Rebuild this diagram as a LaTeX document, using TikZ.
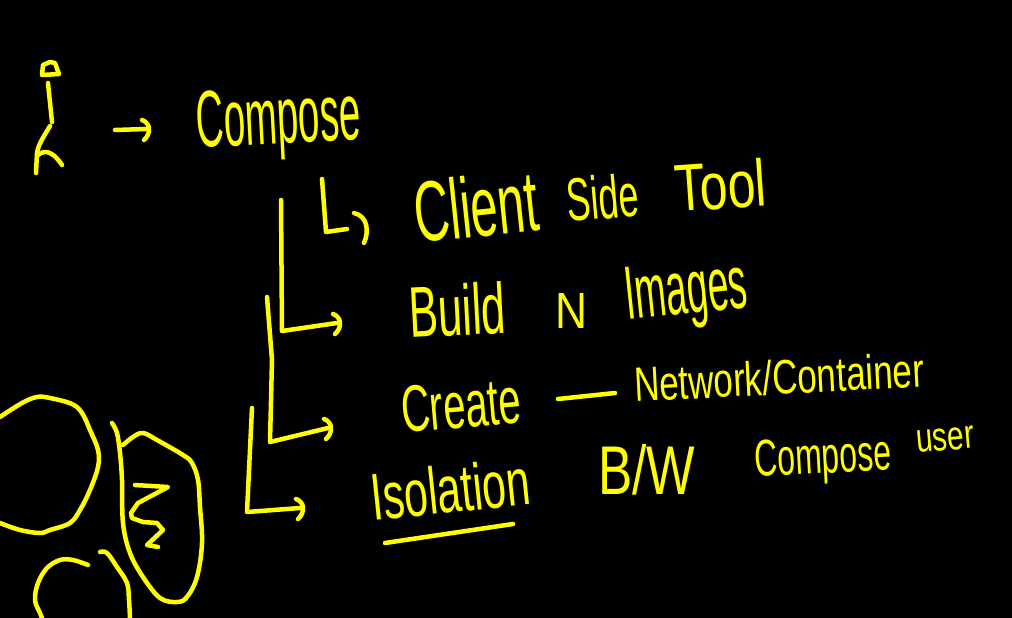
\documentclass[tikz,border=0pt]{standalone}
\usepackage{fontspec}
\setmainfont{Liberation Sans}
\usepackage{graphicx}
\definecolor{ink}{RGB}{255,255,0}
% a word squeezed into a given width and height (above the baseline)
\newcommand{\wordfit}[3]{\resizebox{#1pt}{#2pt}{#3}}
\tikzset{
  pen/.style={draw=ink, line width=4.5pt, line cap=round, line join=round},
  word/.style={text=ink, inner sep=0pt, anchor=base west},
  hookhead/.pic={\draw[pen] (-4,-9) .. controls (5,-6) and (5,5) .. (-2,11);},
}
\begin{document}
\begin{tikzpicture}[x=1pt,y=-1pt]
\fill[black] (0,0) rectangle (1012,618);
\useasboundingbox (0,0) rectangle (1012,618);

% stick figure
\draw[pen] (42,75) -- (43,65) -- (50,62) -- (55,63) -- (59,74) -- cycle;
\draw[pen] (48,83) -- (52,122);
\draw[pen] (50,126) .. controls (44,136) and (38,145) .. (37,153) -- (36,173);
\draw[pen] (38,155) .. controls (44,150) and (52,150) .. (62,165);

% words
\node[word, rotate=3] (compose) at (197,148) {\wordfit{165}{56}{Compose}};
\node[word, rotate=6] (client) at (417,243) {\wordfit{125}{62}{Client}};
\node[word, rotate=5] (side) at (568,222) {\wordfit{72}{44}{Side}};
\node[word, rotate=4] (tool) at (676,212) {\wordfit{92}{48}{Tool}};
\node[word, rotate=3] (build) at (410,338) {\wordfit{97}{52}{Build}};
\node[word] (nn) at (555,328) {\wordfit{32}{35}{N}};
\node[word, rotate=6] (images) at (627,320) {\wordfit{123}{52}{Images}};
\node[word, rotate=5] (create) at (403,433) {\wordfit{120}{46}{Create}};
\node[word, rotate=3] (network) at (635,402) {\wordfit{290}{35}{Network/Container}};
\node[word, rotate=6] (isolation) at (373,521) {\wordfit{160}{48}{Isolation}};
\node[word] (bw) at (598,494) {\wordfit{97}{50}{B/W}};
\node[word, rotate=3] (compose2) at (755,477) {\wordfit{137}{36}{Compose}};
\node[word, rotate=5] (user) at (917,453) {\wordfit{58}{22}{user}};

% arrow from the figure to Compose
\coordinate (a0) at (115,130);
\coordinate (a1) at (146,129);
\draw[pen] (a0) -- (a1);
\pic at (a1) {hookhead};

% branch to Client Side Tool
\coordinate (c0) at (322,179);
\coordinate (c1) at (326,232);
\coordinate (c2) at (347,229);
\draw[pen] (c0) -- (c1) -- (c2);
\draw[pen] (354,213) .. controls (368,216) and (369,232) .. (364,243);

% branch to Build N Images
\coordinate (b0) at (281,200);
\coordinate (b1) at (282,331);
\coordinate (b2) at (337,323);
\draw[pen] (b0) -- (b1) -- (b2);
\pic at (b2) {hookhead};

% branch to Create
\coordinate (r0) at (267,297);
\coordinate (r1) at (270,442);
\coordinate (r2) at (328,428);
\draw[pen] (r0) -- (272,360) -- (r1) -- (r2);
\pic at (r2) {hookhead};

% branch to Isolation
\coordinate (i0) at (252,408);
\coordinate (i1) at (247,512);
\coordinate (i2) at (300,508);
\draw[pen] (i0) -- (i1) -- (i2);
\pic at (i2) {hookhead};

% dash between Create and Network/Container
\coordinate (d0) at (558,399);
\coordinate (d1) at (615,393);
\draw[pen] (d0) -- (d1);

% underline of Isolation
\coordinate (u0) at (385,543);
\coordinate (u1) at (513,524);
\draw[pen] (u0) -- (u1);

% large circle, left
\draw[pen] plot[smooth, tension=0.6] coordinates {(0,417) (22,403) (37,397) (50,398) (72,404) (82,413) (90,430) (98,450) (98,467) (90,490) (80,510) (70,523) (50,530) (40,533) (20,530) (0,523)};

% oval with the zigzag
\draw[pen] plot[smooth, tension=0.6] coordinates {(112,423) (117,433) (120,453) (122,480) (123,523) (130,553) (143,577) (160,598) (177,602) (187,597) (197,577) (202,543) (200,507) (198,480) (192,463) (183,455) (157,440) (143,433) (133,437) (123,445)};
\draw[pen] (135,485) -- (168,487) -- (138,503) -- (131,513) -- (132,518) -- (143,522) -- (157,523) -- (163,530) -- (147,545) -- (158,547);

% small circle and arc, bottom left
\draw[pen] plot[smooth, tension=0.6] coordinates {(88,565) (73,560) (60,560) (47,568) (38,583) (35,600) (40,613) (42,618)};
\draw[pen] plot[smooth, tension=0.6] coordinates {(100,552) (107,553) (117,567) (127,583) (129,600) (130,618)};
\end{tikzpicture}
\end{document}
